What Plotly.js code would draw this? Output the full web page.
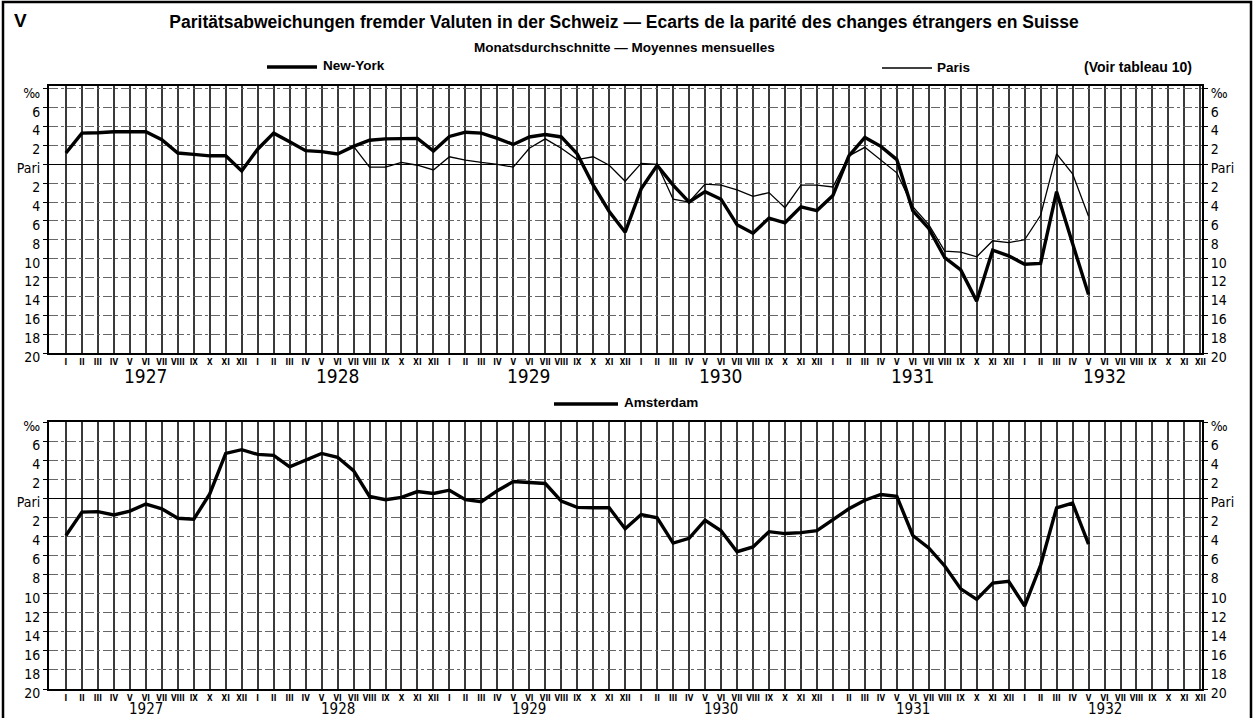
<!DOCTYPE html>
<html>
<head>
<meta charset="utf-8">
<script src="https://cdn.plot.ly/plotly-3.0.1.min.js"></script>
<style>
html,body{margin:0;padding:0;background:#fff;}
#chart{width:1256px;height:718px;}
</style>
</head>
<body>
<div id="chart"></div>
<script>
// ---------- DATA ----------
const years = ['1927','1928','1929','1930','1931','1932'];
const monthNames = ['I','II','III','IV','V','VI','VII','VIII','IX','X','XI','XII'];

// deviation from parity in per mille (positive = above parity, negative = below)
const newYork = [
  1.2, 3.3, 3.35, 3.45, 3.45, 3.45, 2.6, 1.2, 1.05, 0.9, 0.9, -0.7,
  1.6, 3.3, 2.4, 1.45, 1.35, 1.1, 1.9, 2.55, 2.7, 2.7, 2.75, 1.4,
  2.95, 3.4, 3.3, 2.75, 2.1, 2.9, 3.15, 2.9, 1.1, -2.2, -5.0, -7.2,
  -2.6, -0.1, -2.2, -4.0, -2.9, -3.7, -6.4, -7.3, -5.7, -6.2, -4.5, -4.9,
  -3.3, 0.9, 2.85, 1.9, 0.5, -4.9, -6.8, -9.9, -11.2, -14.5, -9.1, -9.7,
  -10.6, -10.5, -2.9, -8.4, -13.8, null, null, null, null, null, null, null
];
const paris = [
  null, null, null, null, null, null, null, null, null, null, null, null,
  null, null, null, null, null, null, 1.9, -0.3, -0.3, 0.2, -0.1, -0.6,
  0.8, 0.45, 0.2, 0.0, -0.3, 1.7, 2.7, 1.7, 0.5, 0.8, -0.1, -1.8,
  0.1, 0.0, -3.7, -4.0, -2.1, -2.2, -2.7, -3.4, -3.0, -4.6, -2.2, -2.2,
  -2.4, 0.9, 1.8, 0.5, -0.9, -4.5, -6.4, -9.2, -9.3, -9.8, -8.1, -8.3,
  -8.0, -5.4, 1.1, -1.0, -5.5, null, null, null, null, null, null, null
];
const amsterdam = [
  -3.9, -1.45, -1.4, -1.75, -1.35, -0.6, -1.1, -2.1, -2.2, 0.45, 4.7, 5.1,
  4.6, 4.5, 3.3, 4.0, 4.7, 4.3, 2.9, 0.2, -0.15, 0.1, 0.7, 0.5,
  0.85, -0.15, -0.35, 0.8, 1.75, 1.65, 1.55, -0.3, -0.95, -1.0, -1.0, -3.2,
  -1.7, -2.05, -4.7, -4.2, -2.3, -3.4, -5.6, -5.1, -3.5, -3.7, -3.6, -3.4,
  -2.3, -1.1, -0.2, 0.4, 0.2, -3.9, -5.2, -7.1, -9.5, -10.6, -8.9, -8.7,
  -11.3, -7.0, -1.0, -0.5, -4.8, null, null, null, null, null, null, null
];

const yTickVals = [8, 6, 4, 2, 0, -2, -4, -6, -8, -10, -12, -14, -16, -18, -20];
const yTickText = ['‰', '6', '4', '2', 'Pari', '2', '4', '6', '8', '10', '12', '14', '16', '18', '20'];

// ---------- BUILD ----------
const W = 1256, H = 718;
const px = v => v / W;          // pixel -> paper x
const py = v => 1 - v / H;      // pixel -> paper y

const monthIdx = newYork.map((_, i) => i);
const xTickText = [];
years.forEach(() => monthNames.forEach(m => xTickText.push(m)));

const narrow = 'Liberation Sans Narrow, DejaVu Sans Condensed, Arial Narrow, sans-serif';
const sans = 'Liberation Sans, Arial, sans-serif';

const traces = [
  {x: monthIdx, y: newYork, xaxis: 'x', yaxis: 'y', mode: 'lines', name: 'New-York',
   line: {color: '#000', width: 3.4}, connectgaps: false},
  {x: monthIdx, y: paris, xaxis: 'x', yaxis: 'y', mode: 'lines', name: 'Paris',
   line: {color: '#000', width: 1.3}, connectgaps: false},
  {x: monthIdx, y: amsterdam, xaxis: 'x2', yaxis: 'y2', mode: 'lines', name: 'Amsterdam',
   line: {color: '#000', width: 3.4}, connectgaps: false},
  // empty helper traces so that the right-hand mirrored scales are drawn
  {x: [], y: [], xaxis: 'x', yaxis: 'y3', mode: 'lines', hoverinfo: 'skip', showlegend: false},
  {x: [], y: [], xaxis: 'x2', yaxis: 'y4', mode: 'lines', hoverinfo: 'skip', showlegend: false}
];

const xDomain = [px(49), px(1202)];
const xRange = [-1.06, 71.1];
const topDomain = [py(353), py(86)];
const botDomain = [py(689), py(422)];

function xAxis(anchor) {
  return {
    domain: xDomain, range: xRange, anchor: anchor,
    tickmode: 'array', tickvals: monthIdx, ticktext: xTickText,
    tickfont: {family: narrow, size: 8, color: '#000', weight: 'bold'},
    ticks: '', ticklabelstandoff: 0,
    showgrid: true, gridcolor: '#3a3a3a', gridwidth: 2,
    showline: true, mirror: true, linecolor: '#000', linewidth: 2,
    zeroline: false, fixedrange: true
  };
}
function yAxis(domain, range, side, overlay, anchor) {
  const a = {
    domain: domain, range: range, anchor: anchor, side: side,
    tickmode: 'array', tickvals: yTickVals, ticktext: yTickText,
    tickfont: {family: narrow, size: 14, color: '#000'},
    ticks: 'outside', ticklen: 4, tickcolor: '#000', tickwidth: 1,
    ticklabelshift: 4,
    showline: true, linecolor: '#000', linewidth: 2,
    fixedrange: true
  };
  if (overlay) {
    a.overlaying = overlay;
    a.showgrid = false;
    a.zeroline = false;
  } else {
    a.mirror = true;
    a.showgrid = true;
    a.gridcolor = '#666';
    a.gridwidth = 1;
    a.griddash = 'dashdot';
    a.zeroline = true;
    a.zerolinecolor = '#000';
    a.zerolinewidth = 1.5;
  }
  return a;
}

const annotations = [];
years.forEach((yr, k) => {
  annotations.push({xref: 'x', yref: 'paper', x: 5 + 12 * k, y: py(376), text: yr, showarrow: false,
    font: {family: narrow, size: 19, color: '#000'}, xanchor: 'center', yanchor: 'middle'});
  annotations.push({xref: 'x2', yref: 'paper', x: 5 + 12 * k, y: py(709), text: yr, showarrow: false,
    font: {family: narrow, size: 15, color: '#000'}, xanchor: 'center', yanchor: 'middle', borderpad: 0});
});
const txt = (x, y, text, size, anchor, bold) => ({
  xref: 'paper', yref: 'paper', x: px(x), y: py(y), text: text, showarrow: false,
  xanchor: anchor, yanchor: 'middle',
  font: {family: sans, size: size, color: '#000', weight: bold ? 'bold' : 'normal'}
});
annotations.push(txt(12, 20, 'V', 19, 'left', true));
annotations.push(txt(624, 47, 'Monatsdurchschnitte — Moyennes mensuelles', 13.5, 'center', true));
annotations.push(txt(321, 66, 'New-York', 13.5, 'left', true));
annotations.push(txt(935, 67, 'Paris', 13.5, 'left', true));
annotations.push(txt(1082, 67, '(Voir tableau 10)', 14, 'left', true));
annotations.push(txt(622, 402, 'Amsterdam', 13.5, 'left', true));

const shapes = [
  {type: 'line', xref: 'paper', yref: 'paper', x0: px(267), x1: px(317), y0: py(67), y1: py(67), line: {color: '#000', width: 3.4}},
  {type: 'line', xref: 'paper', yref: 'paper', x0: px(882), x1: px(932), y0: py(68), y1: py(68), line: {color: '#000', width: 1.3}},
  {type: 'line', xref: 'paper', yref: 'paper', x0: px(554), x1: px(618), y0: py(404), y1: py(404), line: {color: '#000', width: 3.4}},
  {type: 'rect', xref: 'paper', yref: 'paper', x0: px(3), x1: px(1251), y0: py(2), y1: py(722), line: {color: '#000', width: 2.5}, fillcolor: 'rgba(0,0,0,0)'}
];

const layout = {
  width: W, height: H,
  margin: {l: 0, r: 0, t: 0, b: 0},
  paper_bgcolor: '#fff', plot_bgcolor: '#fff',
  showlegend: false,
  title: {
    text: 'Paritätsabweichungen fremder Valuten in der Schweiz — Ecarts de la parité des changes étrangers en Suisse',
    x: 624 / W, xanchor: 'center', y: py(22), yanchor: 'middle',
    font: {family: sans, size: 17.5, color: '#000', weight: 'bold'}
  },
  xaxis: xAxis('y'),
  xaxis2: xAxis('y2'),
  yaxis: yAxis(topDomain, [-20, 8.3], 'left', null, 'x'),
  yaxis3: yAxis(topDomain, [-20, 8.3], 'right', 'y', 'x'),
  yaxis2: yAxis(botDomain, [-20, 8], 'left', null, 'x2'),
  yaxis4: yAxis(botDomain, [-20, 8], 'right', 'y2', 'x2'),
  annotations: annotations,
  shapes: shapes
};

Plotly.newPlot('chart', traces, layout, {staticPlot: true, displayModeBar: false});
</script>
</body>
</html>
